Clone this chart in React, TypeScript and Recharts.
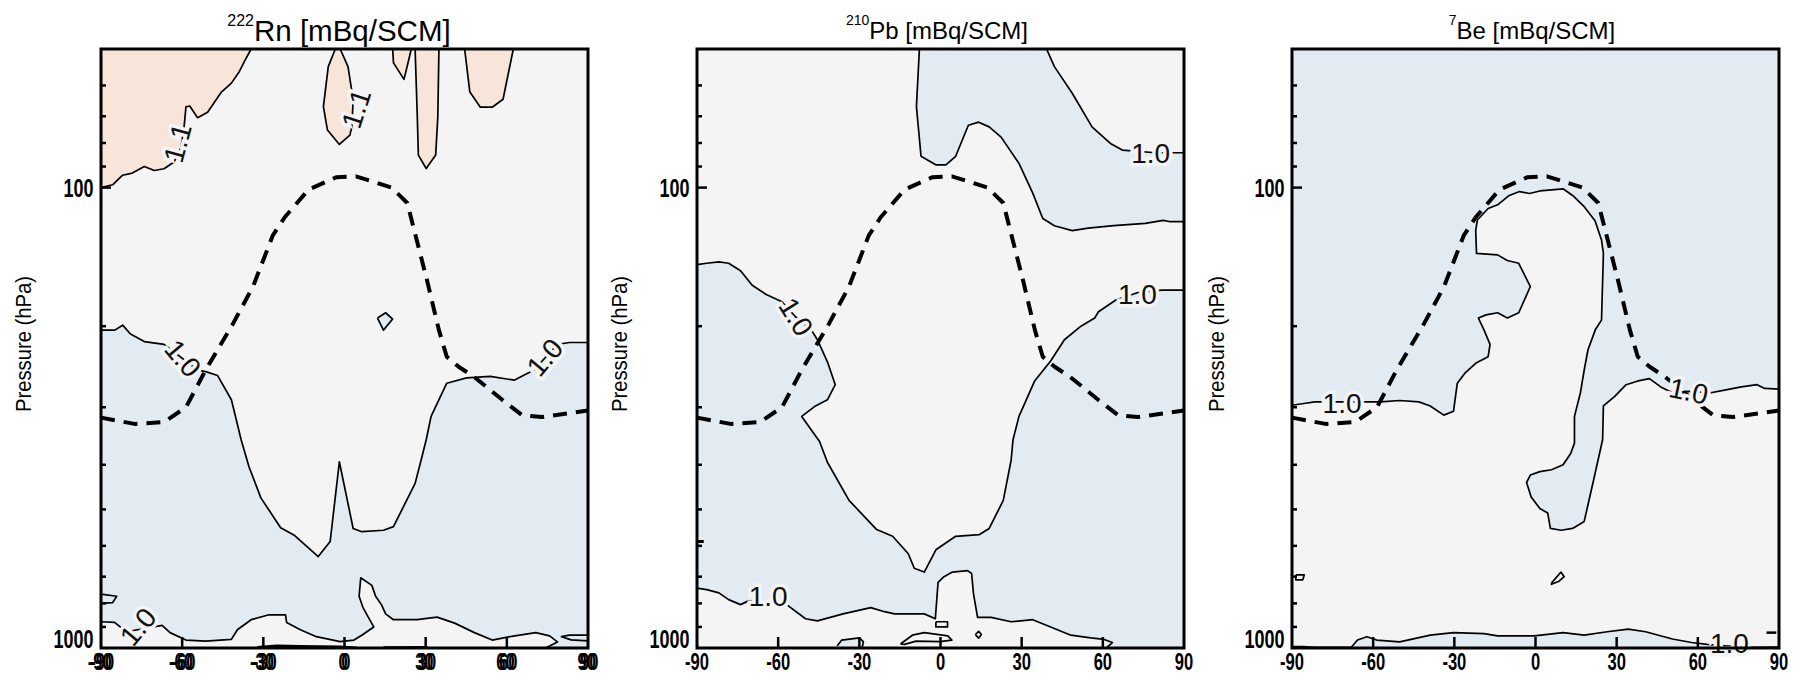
import React from 'react';
import { ComposedChart, Scatter, XAxis, YAxis, CartesianGrid } from 'recharts';

type Pt = [number, number];

const FONT = "'Liberation Sans', Arial, Helvetica, sans-serif";
const GREY = '#f4f4f4';
const BLUE = '#e2eaf2';
const ORANGE = '#f7e5da';

// axes
const latTicks = [-90, -60, -30, 0, 30, 60, 90];
const pTicks = [60, 70, 80, 90, 100, 200, 300, 400, 500, 600, 700, 800, 900, 1000];
const pLabelled = [100, 1000];
const plotFrame: Pt[] = [[-90, 50], [90, 50], [90, 1000], [-90, 1000], [-90, 50]];

// tropopause (lat, hPa), same in every panel
const tropopause: Pt[] = [
  [-90, 316], [-77.6, 326], [-66.7, 323], [-58.6, 300], [-51.3, 249], [-41.1, 197], [-33.8, 164],
  [-26.5, 127], [-22.1, 116], [-13.3, 101], [-3.1, 95], [4.2, 94.5], [17.4, 100], [23.2, 108],
  [26.1, 126], [30.5, 159], [34.9, 204], [37.8, 233], [42.2, 245], [48.0, 258], [58.3, 289],
  [65.6, 312], [72.9, 315], [83.1, 309], [90, 305],
];

// --- 222Rn ---
const rnBlue: Pt[] = [
  [-90, 204], [-84.9, 204], [-82.0, 199], [-79.1, 208], [-74.0, 216], [-66.7, 219], [-54.3, 249],
  [-51.3, 251], [-46.9, 256], [-41.8, 289], [-38.2, 353], [-36.0, 391], [-35.3, 404], [-30.9, 472],
  [-23.6, 548], [-18.4, 570], [-9.7, 633], [-5.3, 587], [-1.9, 394], [3.2, 550], [6.4, 559],
  [14.4, 555], [18.1, 545], [26.1, 439], [28.3, 391], [30.2, 353], [32.0, 314], [37.8, 266],
  [45.1, 259], [53.9, 257], [62.7, 262], [70.0, 249], [78.7, 219], [83.1, 217], [90, 217],
  [90, 1000], [-90, 1000],
];
const rnGreySurface: Pt[] = [
  [-90, 877], [-85, 880], [-80.6, 922], [-67.4, 893], [-64.5, 926], [-58.6, 961], [-51.3, 966],
  [-41.8, 958], [-39.6, 913], [-34.5, 868], [-27.9, 847], [-21.8, 847], [-21.4, 880], [-16.3, 913],
  [-10.4, 945], [-1.6, 969], [3.5, 961], [6.4, 938], [10.8, 900], [9.3, 868], [6.8, 816], [5.4, 772],
  [6.0, 704], [10.1, 731], [11.5, 772], [13.7, 806], [15.2, 843], [18.1, 868], [26.9, 868],
  [34.2, 857], [40.7, 883], [48.0, 926], [54.6, 961], [61.2, 945], [70.7, 926], [75.8, 941],
  [78.7, 970], [75.8, 990], [74, 1000], [-90, 1000],
];
const rnOrangeWest: Pt[] = [
  [-90, 50], [-90, 100], [-85.7, 98.6], [-82, 94], [-78.4, 93], [-74, 90], [-70.3, 91.8], [-66.7, 91],
  [-63, 88], [-60.5, 82], [-59.4, 75], [-58.6, 66.8], [-57.2, 66.5], [-54.3, 70.5], [-50.6, 68.6],
  [-47, 63.9], [-45.5, 62], [-41.8, 59.3], [-38.9, 56], [-36.7, 52.8], [-34.5, 50],
];
const rnOrangeEq: Pt[] = [
  [-3.4, 50], [-6.0, 54.6], [-7.8, 66.7], [-6.3, 75], [-1.9, 80.6], [2.0, 76.9], [2.7, 73.8],
  [3.2, 64.5], [1.3, 54.6], [-1.6, 50],
];
const rnOrange20: Pt[] = [[17.8, 50], [18.1, 53.6], [22.0, 58.2], [24.7, 50]];
const rnOrange30: Pt[] = [[26.1, 50], [26.9, 70], [27.3, 85], [30.2, 90.9], [33.7, 85], [34.5, 70], [34.9, 50]];
const rnOrange55: Pt[] = [[44.4, 50], [46.3, 61.9], [50.2, 66.9], [54.6, 66.9], [58.6, 64.3], [62.4, 50]];
const rnDiamond: Pt[] = [[12.2, 192], [15.2, 187], [17.8, 193], [14.4, 204], [12.2, 192]];
const rnNotch: Pt[] = [[-90, 764], [-84.2, 772], [-85.7, 797], [-90, 800]];
const rnSurfA: Pt[] = [[-32.3, 995], [-25, 988], [-16.3, 990], [-1.6, 993], [4.2, 998], [-10, 997], [-25, 996], [-32.3, 995]];
const rnSurfB: Pt[] = [[14.4, 996], [30.5, 995], [30.5, 999], [14.4, 999], [14.4, 996]];
const rnEastLoop: Pt[] = [[90, 938], [83.1, 938], [80.2, 945], [83.8, 960], [90, 965]];
const rnLabels = [
  { lat: -61.6, p: 80, text: '1.1', angle: -75 },
  { lat: 4.4, p: 67.4, text: '1.1', angle: -72 },
  { lat: -59.8, p: 235, text: '1.0', angle: 50 },
  { lat: 74.1, p: 234, text: '1.0', angle: -50 },
  { lat: -76.2, p: 900, text: '1.0', angle: -50 },
];

// --- 210Pb ---
const pbBlueTop: Pt[] = [
  [-7.8, 50], [-8.9, 66.7], [-7.2, 85.5], [-1.6, 89.3], [2.0, 89.3], [5.6, 85.5], [10.3, 73.2],
  [14.1, 72.1], [18.0, 73.8], [22.4, 77.7], [29.0, 88.6], [34.1, 102.8], [37.8, 116.7], [42.1, 121],
  [48.7, 124], [54.6, 122.5], [64.0, 121], [75.7, 119.6], [82.3, 117.8], [84.5, 118.5], [90, 118.5],
  [90, 84], [79.4, 84], [67.2, 82.9], [62.8, 80.2], [56.0, 73.8], [48.7, 62.4], [42.1, 54.6], [39.2, 50],
];
const pbBlueLow: Pt[] = [
  [-90, 147], [-86.4, 146], [-81.9, 145], [-78.3, 146], [-73.9, 151.5], [-69.6, 163], [-64.4, 170.7],
  [-58.6, 177], [-53.5, 191], [-47.7, 204], [-45.5, 214], [-41.8, 239], [-38.9, 268], [-41.8, 289],
  [-46.2, 298], [-51.3, 314], [-44.7, 356], [-41.8, 395], [-33.8, 478], [-23.6, 553], [-17.7, 572],
  [-11.9, 624], [-9.7, 671], [-6.0, 684], [-1.7, 612], [5.6, 572], [14.4, 567], [18.0, 550],
  [23.2, 478], [26.1, 391], [26.8, 353], [29.0, 314], [34.8, 263], [40.7, 238], [45.8, 214],
  [51.9, 200], [57.0, 192], [58.4, 186], [64.8, 175.5], [73.0, 169], [81.8, 167], [90, 167],
  [90, 1000], [-90, 1000],
];
const pbGreySurface: Pt[] = [
  [-90, 741], [-86.4, 747], [-81.9, 759], [-78.3, 785], [-73.9, 805], [-71.0, 790], [-57.1, 803],
  [-49.9, 864], [-45.5, 873], [-36.0, 843], [-25.8, 817], [-20.7, 834], [-17.0, 843], [-6.0, 843],
  [-1.9, 864], [-0.9, 720], [1.3, 700], [4.4, 684], [10.0, 679], [11.5, 689], [12.2, 763], [13.7, 858],
  [18.7, 858], [26.1, 877], [34.1, 868], [40.7, 900], [48.2, 938], [55.5, 951], [60.5, 958],
  [63.5, 973], [61.3, 1000], [-90, 1000],
];
const pbBlob: Pt[] = [[-38.2, 990], [-36.5, 961], [-29.9, 951], [-28.5, 970], [-29, 1000], [-38.5, 1000]];
const pbLoop: Pt[] = [[-14.8, 980], [-10.4, 938], [-6.0, 926], [2.7, 941], [4.2, 961], [-0.2, 969], [-9.0, 966], [-13.3, 982], [-14.8, 980]];
const pbBox: Pt[] = [[-1.7, 877], [2.6, 877], [2.6, 900], [-1.7, 900], [-1.7, 877]];
const pbDiamond: Pt[] = [[12.9, 935], [14.1, 920], [15.1, 935], [14.1, 952], [12.9, 935]];
const pbDash: Pt[] = [[-90, 587], [-87.5, 587]];
const pbLabels = [
  { lat: 77.7, p: 84.2, text: '1.0', angle: 0 },
  { lat: -53.5, p: 191, text: '1.0', angle: 58 },
  { lat: 72.8, p: 171, text: '1.0', angle: 0 },
  { lat: -63.7, p: 772, text: '1.0', angle: 0 },
];

// --- 7Be ---
const beBlue: Pt[] = [
  [-90, 50], [-90, 297], [-85, 294], [-81.5, 292], [-71.5, 292], [-63, 292], [-57.3, 292], [-50.2, 290],
  [-43.1, 292], [-38.9, 298], [-33.9, 312], [-30.3, 306], [-28.9, 266], [-26.1, 253], [-21.8, 240],
  [-17.5, 233], [-16.8, 219], [-19.0, 204], [-21.1, 192], [-18.3, 189], [-14.0, 187], [-10.4, 192],
  [-6.2, 187], [-1.9, 164], [-6.2, 146], [-10.4, 144], [-14.0, 140], [-21.8, 139], [-22.1, 124],
  [-21.5, 117.6], [-17.5, 111], [-14.0, 109], [-9.7, 104], [-5.9, 102], [-2.2, 103], [1.6, 101.7],
  [10.2, 100.6], [13.7, 104], [18.0, 110], [22.0, 118], [24.4, 130], [25.1, 139], [24.4, 194],
  [22.2, 203], [19.4, 225], [18.0, 249], [16.6, 279], [14.4, 314], [14.4, 359], [13.0, 378],
  [10.2, 400], [5.9, 410], [1.6, 414], [-1.9, 421], [-3.3, 437], [-1.6, 470], [1.6, 498], [4.5, 509],
  [5.5, 550], [9.5, 555], [13.7, 550], [18.0, 531], [21.5, 431], [24.8, 353], [25.1, 298], [29.3, 284],
  [33.5, 268], [37.9, 263], [42.1, 260], [46.3, 271], [50.6, 279], [56.3, 277], [64.8, 279],
  [70.4, 275], [76.1, 271], [81.9, 268], [84.7, 273], [90, 274], [90, 50],
];
const beSurface: Pt[] = [
  [-90, 993], [-85.7, 993], [-81.5, 997], [-68, 995], [-65.8, 961], [-62.3, 945], [-58.7, 961],
  [-50.2, 970], [-38.9, 938], [-30.3, 926], [-19, 931], [-14, 941], [-0.5, 941], [10.2, 926],
  [18, 938], [26.5, 922], [34.3, 910], [40.7, 922], [50.6, 956], [57.7, 973], [63.4, 982],
  [71.2, 990], [80.4, 997], [90, 995], [90, 1000], [-90, 1000],
];
const beRect: Pt[] = [[-88.6, 694], [-85.5, 694], [-86.0, 711], [-88.6, 711], [-88.6, 694]];
const beDiamond: Pt[] = [[5.9, 723], [9.4, 684], [10.6, 700], [8.7, 716], [5.9, 727], [5.9, 723]];
const beDash: Pt[] = [[85.4, 926], [89, 926]];
const beLabels = [
  { lat: -71.5, p: 294, text: '1.0', angle: 0 },
  { lat: 56.6, p: 277, text: '1.0', angle: 12 },
  { lat: 71.7, p: 978, text: '1.0', angle: 0 },
];

const titles = [
  { iso: '222', name: 'Rn [mBq/SCM]', cx: 339, size: 29.5, supSize: 16, y: 41, rise: 15.3 },
  { iso: '210', name: 'Pb [mBq/SCM]', cx: 937, size: 24, supSize: 14, y: 39.3, rise: 14.3 },
  { iso: '7', name: 'Be [mBq/SCM]', cx: 1532, size: 24, supSize: 14, y: 39.3, rise: 14.3 },
];
const yLabelX = [24, 620, 1217];

type Layer = { pts: Pt[]; fill?: string; width?: number; dash?: string };

const toRows = (pts: Pt[]) => pts.map(([lat, p]) => ({ lat, p }));

const dash = (pts: Pt[]): Layer => ({ pts, width: 4, dash: '14 9' });

const panels = [
  {
    left: 0, width: 600, ml: 100, mr: 11, boldX: true,
    layers: [
      { pts: rnBlue, fill: BLUE },
      { pts: rnGreySurface, fill: GREY },
      { pts: rnOrangeWest, fill: ORANGE },
      { pts: rnOrangeEq, fill: ORANGE },
      { pts: rnOrange20, fill: ORANGE },
      { pts: rnOrange30, fill: ORANGE },
      { pts: rnOrange55, fill: ORANGE },
      { pts: rnDiamond, fill: BLUE },
      { pts: rnNotch },
      { pts: rnSurfA, width: 2 },
      { pts: rnSurfB, width: 2 },
      { pts: rnEastLoop },
      dash(tropopause),
    ] as Layer[],
    labels: rnLabels,
  },
  {
    left: 600, width: 596, ml: 96, mr: 11, boldX: false,
    layers: [
      { pts: pbBlueTop, fill: BLUE },
      { pts: pbBlueLow, fill: BLUE },
      { pts: pbGreySurface, fill: GREY },
      { pts: pbBlob, fill: BLUE },
      { pts: pbLoop },
      { pts: pbBox },
      { pts: pbDiamond },
      { pts: pbDash, width: 3 },
      dash(tropopause),
    ] as Layer[],
    labels: pbLabels,
  },
  {
    left: 1196, width: 608, ml: 95, mr: 24, boldX: false,
    layers: [
      { pts: beBlue, fill: BLUE },
      { pts: beSurface, fill: BLUE },
      { pts: beRect },
      { pts: beDiamond },
      { pts: beDash, width: 2.5 },
      dash(tropopause),
    ] as Layer[],
    labels: beLabels,
  },
];

const tickLine = { stroke: '#000', strokeWidth: 2.5 };

// text squeezed horizontally, like the narrow face of the original
const NText = ({ x, y, sx = 1, angle = 0, children, ...rest }: any) => (
  <g transform={`translate(${x} ${y}) rotate(${angle}) scale(${sx} 1)`}>
    <text x={0} y={0} fontFamily={FONT} fill="#000" {...rest}>
      {children}
    </text>
  </g>
);

const noDot = () => <g />;

const renderLabel = (props: any) => {
  const { cx, cy, payload } = props;
  return (
    <NText x={cx} y={cy} angle={payload.angle} textAnchor="middle" dominantBaseline="central" fontSize={28}
      fill="#111" stroke={GREY} strokeWidth={7} paintOrder="stroke">
      {payload.text}
    </NText>
  );
};

const bottomTick = (double: boolean) => (props: any) => {
  const { x, y, payload } = props;
  const v = payload.value;
  const shifts = double ? [-1.3, 1.3] : [0];
  return (
    <g>
      {Math.abs(v) < 90 && <line x1={x} x2={x} y1={y} y2={y - 11} {...tickLine} />}
      {shifts.map((s) => (
        <NText key={s} x={x + s} y={y + 22} sx={0.72} textAnchor="middle" fontSize={23} fontWeight={700}>
          {v}
        </NText>
      ))}
    </g>
  );
};

const topTick = (props: any) => {
  const { x, y, payload } = props;
  if (Math.abs(payload.value) >= 90) return <g />;
  return <line x1={x} x2={x} y1={y} y2={y + 11} {...tickLine} />;
};

const leftTick = (props: any) => {
  const { x, y, payload } = props;
  const v = payload.value;
  const len = v === 100 ? 10 : 5;
  return (
    <g>
      {v !== 1000 && <line x1={x} x2={x + len} y1={y} y2={y} {...tickLine} />}
      {pLabelled.includes(v) && (
        <NText x={x - 7.5} y={v === 1000 ? y : y + 9} sx={0.72} textAnchor="end" fontSize={25} fontWeight={700}>
          {v}
        </NText>
      )}
    </g>
  );
};

const rightTick = (props: any) => {
  const { x, y, payload } = props;
  const v = payload.value;
  if (v === 1000) return <g />;
  const len = v === 100 ? 10 : 5;
  return <line x1={x} x2={x - len} y1={y} y2={y} {...tickLine} />;
};

function Panel({ cfg }: { cfg: (typeof panels)[number] }) {
  return (
    <div style={{ position: 'absolute', left: cfg.left, top: 0 }}>
      <ComposedChart width={cfg.width} height={684} margin={{ top: 48, right: cfg.mr, bottom: 35, left: cfg.ml }}>
        <CartesianGrid xAxisId="b" yAxisId="l" horizontal={false} vertical={false} fill={GREY} stroke="none" />
        {cfg.layers.map((ly, i) => (
          <Scatter
            key={i}
            xAxisId="b"
            yAxisId="l"
            data={toRows(ly.pts)}
            shape={noDot}
            isAnimationActive={false}
            line={{
              fill: ly.fill ?? 'none',
              stroke: '#000',
              strokeWidth: ly.width ?? 1.7,
              strokeDasharray: ly.dash ?? 'none',
              strokeLinejoin: 'round',
            }}
          />
        ))}
        <Scatter xAxisId="b" yAxisId="l" data={cfg.labels} shape={renderLabel} isAnimationActive={false} />
        <Scatter
          xAxisId="b"
          yAxisId="l"
          data={toRows(plotFrame)}
          shape={noDot}
          isAnimationActive={false}
          line={{ fill: 'none', stroke: '#000', strokeWidth: 3, strokeLinejoin: 'miter', strokeLinecap: 'square' }}
        />
        <XAxis xAxisId="b" type="number" dataKey="lat" domain={[-90, 90]} ticks={latTicks} interval={0}
          height={1} tickSize={0} tickMargin={0} tickLine={false} axisLine={false} tick={bottomTick(cfg.boldX)} />
        <XAxis xAxisId="t" orientation="top" type="number" dataKey="lat" domain={[-90, 90]} ticks={latTicks} interval={0}
          height={1} tickSize={0} tickMargin={0} tickLine={false} axisLine={false} tick={topTick} />
        <YAxis yAxisId="l" type="number" dataKey="p" scale="log" domain={[50, 1000]} reversed ticks={pTicks} interval={0}
          width={1} tickSize={0} tickMargin={0} tickLine={false} axisLine={false} tick={leftTick} />
        <YAxis yAxisId="r" orientation="right" type="number" dataKey="p" scale="log" domain={[50, 1000]} reversed ticks={pTicks}
          interval={0} width={1} tickSize={0} tickMargin={0} tickLine={false} axisLine={false} tick={rightTick} />
      </ComposedChart>
    </div>
  );
}

export default function App() {
  return (
    <div style={{ position: 'absolute', left: 0, top: 0, width: 1804, height: 684, background: '#fff' }}>
      {panels.map((cfg, i) => (
        <Panel key={i} cfg={cfg} />
      ))}
      <svg width={1804} height={684} style={{ position: 'absolute', left: 0, top: 0, pointerEvents: 'none' }}>
        {titles.map((t) => (
          <text key={t.iso} x={t.cx} y={t.y} textAnchor="middle" fontSize={t.size} fontFamily={FONT} fill="#000">
            <tspan fontSize={t.supSize} dy={-t.rise}>{t.iso}</tspan>
            <tspan dy={t.rise}>{t.name}</tspan>
          </text>
        ))}
        {yLabelX.map((x) => (
          <NText key={x} x={x} y={344} angle={-90} sx={0.9} textAnchor="middle" dominantBaseline="central" fontSize={22.5}>
            Pressure (hPa)
          </NText>
        ))}
      </svg>
    </div>
  );
}
